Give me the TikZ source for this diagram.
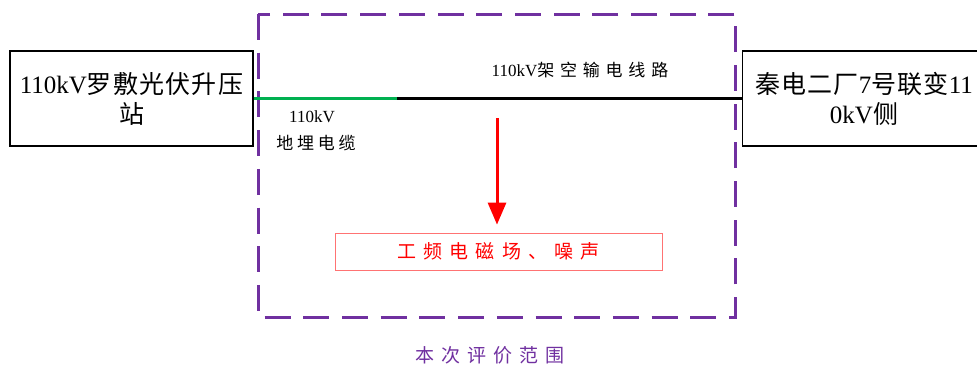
\documentclass[tikz,border=0pt]{standalone}
\usepackage{fontspec}
\setmainfont{Liberation Serif}
\newfontfamily\cjk{Noto Sans CJK SC}[LetterSpace=5]
\newfontfamily\cjkwide{Noto Sans CJK SC}[LetterSpace=38]
\usetikzlibrary{arrows.meta,positioning}

\definecolor{rangepurple}{RGB}{112,48,160}
\definecolor{cablegreen}{RGB}{0,176,80}
\definecolor{effectred}{RGB}{255,0,0}

\tikzset{
  station/.style={draw, line width=1.6pt, minimum width=243pt, minimum height=95pt,
    align=center, inner sep=0pt, font=\fontsize{25}{30}\selectfont},
  linelabel/.style={inner sep=0pt, align=center, font=\fontsize{17}{27}\selectfont},
  effectbox/.style={draw=effectred!55, line width=0.8pt, minimum width=327pt, minimum height=37pt,
    inner sep=0pt, text=effectred, font=\fontsize{19}{20}\selectfont\cjkwide},
}

\begin{document}
\begin{tikzpicture}[x=1pt, y=-1pt]
\clip (0,0) rectangle (977,367);

% scope of this evaluation
\draw[rangepurple, line width=3pt, dash pattern=on 26pt off 12.7pt] (258,14) rectangle (735,317);
\node[rangepurple, inner sep=0pt, font=\fontsize{19}{20}\selectfont\cjkwide\addfontfeature{LetterSpace=36}] (range) at (490,355) {本次评价范围};

% stations
\node[station] (luofu) at (131.5,98.5) {110kV{\cjk 罗敷光伏升压}\\{\cjk 站}};
\node[station] (qindian) at (864,98.5) {{\cjk 秦电二厂}7{\cjk 号联变}11\\0kV{\cjk 侧}};

% 110kV line: buried cable then overhead line
\coordinate (joint) at (397,98.5);
\draw[cablegreen, line width=2.5pt] (luofu.east) -- (joint);
\draw[line width=2.5pt] (joint) -- (qindian.west);
\node[linelabel] (overhead) at (580,70) {110kV{\cjkwide\addfontfeature{LetterSpace=34} 架空输电线路}};
\node[linelabel] (cable) at (316,131) {\hspace*{-8pt}110kV\\{\cjkwide\addfontfeature{LetterSpace=22} 地埋电缆}};

% environmental effect
\coordinate (src) at (497,118);
\node[effectbox] (effect) at (498.5,251.5) {工频电磁场、噪声};
\draw[effectred, line width=3pt, -{Triangle[length=22pt,width=18pt]}, shorten >=8pt] (src) -- (effect.north -| src);

\end{tikzpicture}
\end{document}
